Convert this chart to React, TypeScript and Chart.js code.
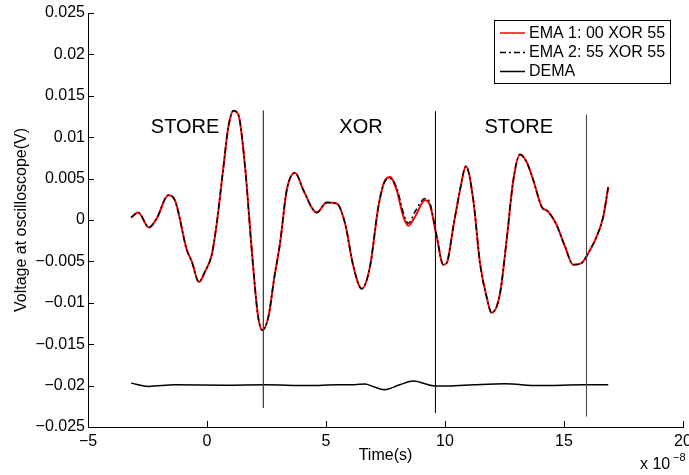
import React, { useEffect, useRef } from "react";
import { Chart, registerables } from "chart.js";

Chart.register(...registerables);

// Time axis in units of 1e-8 s
const emaTime = [
  -3.19, -2.89, -2.44, -2.11, -1.63, -1.35, -0.85, -0.64, -0.34, -0.08,
  0.2, 0.41, 0.69, 0.9, 1.11, 1.32, 1.6, 1.88, 2.13, 2.32,
  2.58, 2.83, 3.07, 3.35, 3.7, 4.05, 4.61, 5.03, 5.45, 5.8,
  6.15, 6.5, 6.85, 7.2, 7.48, 7.69, 7.97, 8.25, 8.46, 8.74,
  9.16, 9.37, 9.65, 9.93, 10.07, 10.35, 10.63, 10.88, 11.19, 11.47,
  11.75, 11.96, 12.31, 12.59, 12.87, 13.15, 13.43, 13.71, 14.06, 14.34,
  14.69, 15.04, 15.39, 15.74, 16.02, 16.37, 16.65, 16.86,
];

const ema1Values = [
  0.0003, 0.0009, -0.0009, 0.0002, 0.003, 0.0024, -0.0036, -0.005, -0.0075, -0.0062,
  -0.0042, -0.0004, 0.0064, 0.0113, 0.0132, 0.0127, 0.0064, -0.0036, -0.0113, -0.0133,
  -0.0117, -0.0069, -0.0028, 0.0036, 0.0057, 0.0036, 0.0009, 0.0021, 0.002, -0.0004,
  -0.0056, -0.0083, -0.0056, 0.0016, 0.0048, 0.0052, 0.0036, 0.0004, -0.0007, 0.0004,
  0.0024, 0.0018, -0.002, -0.0054, -0.0052, -0.0008, 0.0036, 0.0065, 0.0024, -0.0052,
  -0.0093, -0.0112, -0.0089, -0.0024, 0.0048, 0.0079, 0.007, 0.0048, 0.0016, 0.001,
  -0.0006, -0.0032, -0.0054, -0.0052, -0.004, -0.002, 0.0004, 0.004,
];

const ema2Values = [
  0.0003, 0.0009, -0.0009, 0.0002, 0.003, 0.0024, -0.0036, -0.005, -0.0075, -0.0062,
  -0.0042, -0.0004, 0.0064, 0.0113, 0.0132, 0.0127, 0.0064, -0.0036, -0.0113, -0.0133,
  -0.0117, -0.0069, -0.0028, 0.0036, 0.0057, 0.0036, 0.0009, 0.0021, 0.002, -0.0004,
  -0.0056, -0.0083, -0.0056, 0.0016, 0.0047, 0.005, 0.0039, 0.0009, -0.0004, 0.001,
  0.0026, 0.002, -0.0019, -0.0054, -0.0052, -0.0008, 0.0036, 0.0065, 0.0024, -0.0052,
  -0.0093, -0.0112, -0.0089, -0.0024, 0.0048, 0.0079, 0.007, 0.0048, 0.0016, 0.001,
  -0.0006, -0.0032, -0.0054, -0.0052, -0.004, -0.002, 0.0004, 0.004,
];

const demaTime = [
  -3.19, -2.45, -1.34, 0.76, 2.44, 4.25, 5.5, 6.2, 6.64, 6.97,
  7.45, 8.1, 8.67, 9.58, 10.14, 11.2, 12.52, 13.92, 15.88, 16.86,
];
const demaValues = [
  -0.0197, -0.0201, -0.0199, -0.01995, -0.0199, -0.02, -0.0199, -0.0199, -0.0198, -0.0201,
  -0.0205, -0.0199, -0.01945, -0.02005, -0.02005, -0.0199, -0.01977, -0.02, -0.0199, -0.0199,
];

const markerTimes = [2.37, 9.6, 15.945];
const markerTops = [0.0132, 0.0131, 0.0127];
const markerBottoms = [-0.0227, -0.0233, -0.0237];

const phaseLabels = ["STORE", "XOR", "STORE"];
const phaseLabelTimes = [-0.92, 6.47, 13.1];
const phaseLabelLevel = 0.0112;

const legendLabels = ["EMA 1: 00 XOR 55", "EMA 2: 55 XOR 55", "DEMA"];

const xMin = -5;
const xMax = 20;
const xStep = 5;
const yMin = -0.025;
const yMax = 0.025;
const yStep = 0.005;

const FONT = "'Liberation Sans', Arial, Helvetica, sans-serif";

function pts(xs: number[], ys: number[]) {
  return xs.map((x, i) => ({ x, y: ys[i] }));
}

const overlayPlugin = {
  id: "overlay",
  afterDraw(chart: any) {
    const { ctx, chartArea, scales } = chart;
    const xs = scales.x;
    const ys = scales.y;
    ctx.save();
    // inward ticks
    ctx.strokeStyle = "#000";
    ctx.lineWidth = 1;
    ctx.beginPath();
    ys.ticks.forEach((t: any) => {
      const py = Math.round(ys.getPixelForValue(t.value)) + 0.5;
      ctx.moveTo(chartArea.left, py);
      ctx.lineTo(chartArea.left + 6, py);
    });
    xs.ticks.forEach((t: any) => {
      const px = Math.round(xs.getPixelForValue(t.value)) + 0.5;
      ctx.moveTo(px, chartArea.bottom);
      ctx.lineTo(px, chartArea.bottom - 6);
    });
    ctx.stroke();

    // phase labels
    ctx.fillStyle = "#000";
    ctx.font = `20px ${FONT}`;
    ctx.textAlign = "center";
    ctx.textBaseline = "middle";
    phaseLabels.forEach((lab, i) => {
      ctx.fillText(lab, xs.getPixelForValue(phaseLabelTimes[i]), ys.getPixelForValue(phaseLabelLevel));
    });

    // exponent label
    ctx.textAlign = "left";
    ctx.textBaseline = "alphabetic";
    ctx.font = `16px ${FONT}`;
    ctx.fillText("x 10", 640, 469);
    ctx.font = `11px ${FONT}`;
    ctx.fillText("\u22128", 673, 461);

    // legend
    const bx = 494.5, by = 20.5, bw = 176, bh = 63;
    ctx.fillStyle = "#fff";
    ctx.fillRect(bx, by, bw, bh);
    ctx.strokeStyle = "#000";
    ctx.lineWidth = 1;
    ctx.strokeRect(bx, by, bw, bh);
    const rowY = [33, 52.5, 71.5];
    const styles = [
      { color: "#ff0000", dash: [] as number[] },
      { color: "#000", dash: [6, 3, 2, 3] },
      { color: "#000", dash: [] as number[] },
    ];
    legendLabels.forEach((lab, i) => {
      ctx.beginPath();
      ctx.strokeStyle = styles[i].color;
      ctx.lineWidth = 1.5;
      ctx.setLineDash(styles[i].dash);
      ctx.moveTo(500, rowY[i]);
      ctx.lineTo(525, rowY[i]);
      ctx.stroke();
      ctx.setLineDash([]);
      ctx.fillStyle = "#000";
      ctx.font = `16px ${FONT}`;
      ctx.textBaseline = "middle";
      ctx.fillText(lab, 529, rowY[i] + 0.5);
    });
    ctx.restore();
  },
};

export default function App() {
  const ref = useRef<HTMLCanvasElement | null>(null);

  useEffect(() => {
    if (!ref.current) return;
    Chart.defaults.font.family = FONT;
    Chart.defaults.color = "#000";

    const markerSets = markerTimes.map((t, i) => ({
      label: "marker" + i,
      data: [
        { x: t, y: markerTops[i] },
        { x: t, y: markerBottoms[i] },
      ],
      borderColor: i === 1 ? "#111" : "#444",
      borderWidth: 1,
      pointRadius: 0,
      tension: 0,
      order: 1,
    }));

    const chart = new Chart(ref.current, {
      type: "line",
      data: {
        datasets: [
          {
            label: legendLabels[0],
            data: pts(emaTime, ema1Values),
            borderColor: "#ff0000",
            borderWidth: 2,
            pointRadius: 0,
            cubicInterpolationMode: "monotone",
            order: 4,
          },
          {
            label: legendLabels[1],
            data: pts(emaTime, ema2Values),
            borderColor: "#000",
            borderWidth: 1.5,
            borderDash: [6, 3, 2, 3],
            pointRadius: 0,
            cubicInterpolationMode: "monotone",
            order: 3,
          },
          {
            label: legendLabels[2],
            data: pts(demaTime, demaValues),
            borderColor: "#000",
            borderWidth: 1.5,
            pointRadius: 0,
            cubicInterpolationMode: "monotone",
            order: 2,
          },
          ...markerSets,
        ] as any,
      },
      options: {
        responsive: false,
        animation: false,
        devicePixelRatio: 1,
        layout: { padding: { left: 0, right: 6, top: 13, bottom: 0 } },
        plugins: {
          legend: { display: false },
          tooltip: { enabled: false },
        },
        scales: {
          x: {
            type: "linear",
            min: xMin,
            max: xMax,
            grid: { display: false, drawTicks: false },
            border: { display: true, color: "#000", width: 1 },
            ticks: {
              stepSize: xStep,
              padding: 5,
              maxRotation: 0,
              font: { size: 16 },
              color: "#000",
              callback: (v: any) => String(v).replace("-", "\u2212"),
            },
            title: {
              display: true,
              text: "Time(s)",
              font: { size: 16 },
              color: "#000",
              padding: { top: 0, bottom: 10 },
            },
            afterFit: (s: any) => {
              s.height = 48;
              s.paddingLeft = 0;
              s.paddingRight = 0;
            },
          },
          y: {
            type: "linear",
            min: yMin,
            max: yMax,
            grid: { display: false, drawTicks: false },
            border: { display: true, color: "#000", width: 1 },
            ticks: {
              stepSize: yStep,
              padding: 3,
              font: { size: 16 },
              color: "#000",
              callback: (v: any) =>
                (Math.round(Number(v) * 1000) / 1000).toString().replace("-", "\u2212"),
            },
            title: {
              display: true,
              text: "Voltage at oscilloscope(V)",
              font: { size: 16 },
              color: "#000",
              padding: { top: 12, bottom: 0 },
            },
            afterFit: (s: any) => {
              s.width = 88;
              s.paddingTop = 0;
              s.paddingBottom = 0;
            },
          },
        },
      },
      plugins: [overlayPlugin],
    });

    return () => chart.destroy();
  }, []);

  return (
    <div style={{ position: "absolute", left: 0, top: 0, width: 689, height: 475, background: "#fff" }}>
      <canvas ref={ref} width={689} height={475} style={{ display: "block" }} />
    </div>
  );
}
